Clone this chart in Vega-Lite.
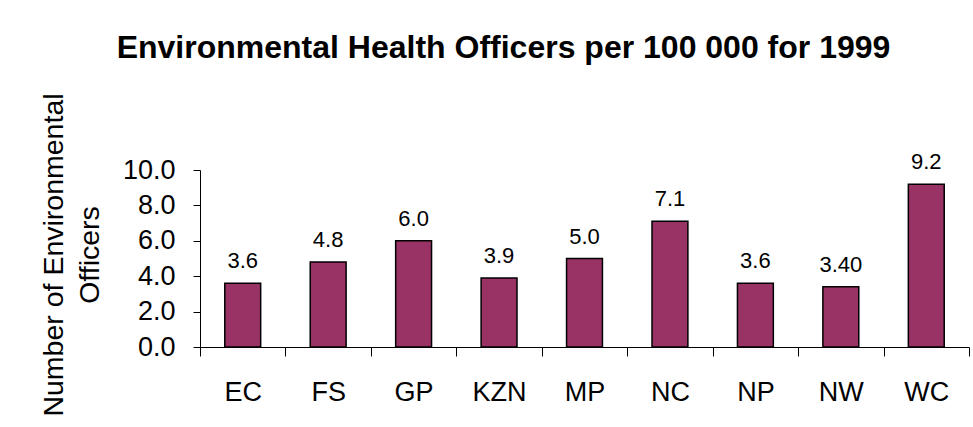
{
  "$schema": "https://vega.github.io/schema/vega-lite/v6.json",
  "autosize": "none",
  "padding": {"left": 200, "top": 170, "right": 4, "bottom": 80},
  "width": 769,
  "height": 177,
  "background": "white",
  "title": {
    "text": "Environmental Health Officers per 100 000 for 1999",
    "anchor": "middle",
    "frame": "group",
    "fontSize": 32,
    "fontWeight": "bold",
    "color": "black",
    "baseline": "alphabetic",
    "offset": 3,
    "dx": -81
  },
  "config": {
    "font": "Liberation Sans",
    "view": {"stroke": null}
  },
  "data": {
    "values": [
      {"province": "EC", "value": 3.6, "label": "3.6"},
      {"province": "FS", "value": 4.8, "label": "4.8"},
      {"province": "GP", "value": 6.0, "label": "6.0"},
      {"province": "KZN", "value": 3.9, "label": "3.9"},
      {"province": "MP", "value": 5.0, "label": "5.0"},
      {"province": "NC", "value": 7.1, "label": "7.1"},
      {"province": "NP", "value": 3.6, "label": "3.6"},
      {"province": "NW", "value": 3.4, "label": "3.40"},
      {"province": "WC", "value": 9.2, "label": "9.2"}
    ]
  },
  "encoding": {
    "x": {
      "field": "province",
      "type": "nominal",
      "sort": null,
      "scale": {"paddingInner": 0, "paddingOuter": 0},
      "axis": {
        "title": null,
        "labelAngle": 0,
        "labelFontSize": 27,
        "labelColor": "black",
        "labelPadding": 23,
        "tickBand": "extent",
        "tickSize": 9,
        "tickColor": "black",
        "domainColor": "black",
        "grid": false
      }
    },
    "y": {
      "field": "value",
      "type": "quantitative",
      "scale": {"domain": [0, 10], "nice": false},
      "axis": {
        "title": ["Number of Environmental", "Officers"],
        "titleFontSize": 28.5,
        "titleFontWeight": "normal",
        "titleColor": "black",
        "titleX": -138,
        "titleY": 84.5,
        "titleAlign": "center",
        "titleBaseline": "alphabetic",
        "titleAngle": 270,
        "titleLineHeight": 36,
        "values": [0, 2, 4, 6, 8, 10],
        "format": ".1f",
        "labelFontSize": 27,
        "labelColor": "black",
        "labelPadding": 18,
        "tickSize": 7,
        "tickColor": "black",
        "domainColor": "black",
        "grid": false
      }
    }
  },
  "layer": [
    {
      "mark": {"type": "bar", "width": {"band": 0.42}, "color": "#993366", "stroke": "black", "strokeWidth": 1.5}
    },
    {
      "mark": {"type": "text", "baseline": "alphabetic", "dy": -15, "fontSize": 22, "color": "black"},
      "encoding": {"text": {"field": "label"}}
    }
  ]
}
